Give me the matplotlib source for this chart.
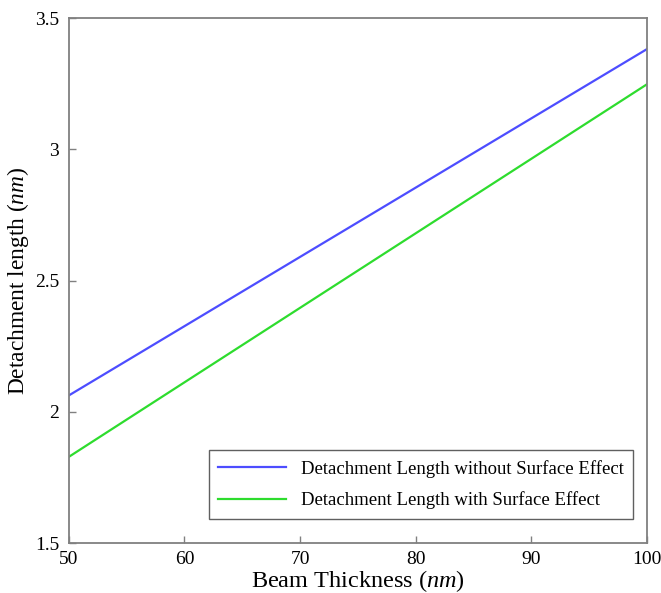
import matplotlib
matplotlib.use("Agg")
import matplotlib.pyplot as plt

# épaisseur de la poutre (nm) et longueurs de détachement
thickness = [50, 60, 70, 80, 90, 100]
len_without = [2.062, 2.326, 2.590, 2.854, 3.118, 3.382]
len_with = [1.828, 2.112, 2.396, 2.680, 2.964, 3.248]

xticks = [50, 60, 70, 80, 90, 100]
yticks = [1.5, 2, 2.5, 3, 3.5]

plt.rcParams['font.family'] = ['Liberation Serif', 'DejaVu Serif']
plt.rcParams['mathtext.fontset'] = 'custom'
plt.rcParams['mathtext.rm'] = 'Liberation Serif'
plt.rcParams['mathtext.it'] = 'Liberation Serif:italic'

fig = plt.figure(figsize=(6.61, 5.93), dpi=100)
ax = fig.add_axes([0.104, 0.0843, 0.875, 0.8853])

ax.plot(thickness, len_without, color='#4d4dff', lw=1.6,
        label='Detachment Length without Surface Effect')
ax.plot(thickness, len_with, color='#2edc2e', lw=1.6,
        label='Detachment Length with Surface Effect')

ax.set_xlim(50, 100)
ax.set_ylim(1.5, 3.5)
ax.set_xticks(xticks)
ax.set_xticklabels([str(t) for t in xticks])
ax.set_yticks(yticks)
ax.set_yticklabels(['1.5', '2', '2.5', '3', '3.5'])
ax.tick_params(direction='in', length=5, width=1, color='#808080',
               labelsize=14, top=False, right=False)
ax.tick_params(axis='y', pad=7)
ax.tick_params(axis='x', pad=6)

for s in ax.spines.values():
    s.set_color('#808080')
    s.set_linewidth(1.3)

ax.set_xlabel(r'Beam Thickness ($\mathit{nm}$)', fontsize=17.5, labelpad=0)
ax.set_ylabel(r'Detachment length ($\mathit{nm}$)', fontsize=16.8, labelpad=3)

leg = ax.legend(loc='lower right', bbox_to_anchor=(0.976, 0.046),
                borderaxespad=0, fontsize=13.5, fancybox=False,
                framealpha=1, edgecolor='#606060', handlelength=3.6,
                labelspacing=0.75, borderpad=0.5)
leg.get_frame().set_linewidth(1.0)

plt.savefig('out.png', dpi=100)
